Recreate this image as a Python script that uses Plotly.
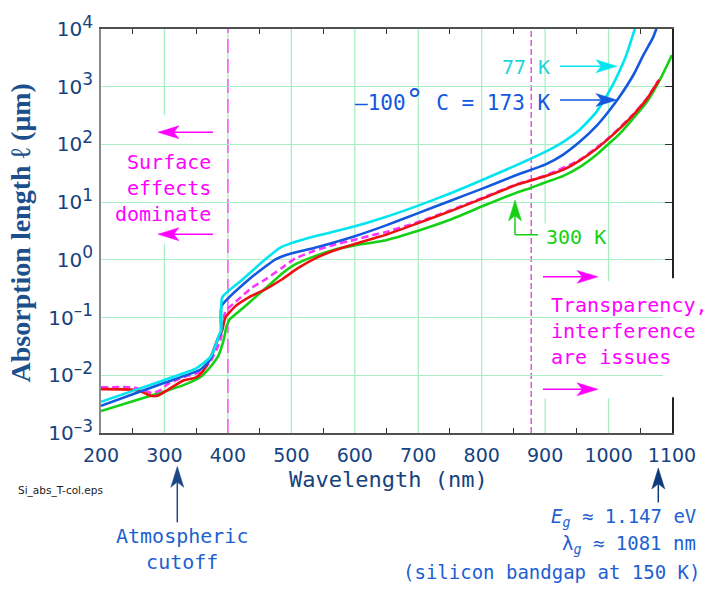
import plotly.graph_objects as go

# ---------------- data ----------------
wl_77 = [200, 250, 300, 350, 372, 380, 386, 389.5, 391, 420, 459, 482, 500, 537, 590, 645,
         700, 750, 800, 855, 900, 928, 955, 980, 1000, 1012, 1028, 1042]
L_77 = [0.00347, 0.00537, 0.00832, 0.0132, 0.0204, 0.0316, 0.0501, 0.0603, 0.224, 0.427, 1.02,
        1.62, 1.95, 2.57, 3.55, 5.37, 8.71, 14.1, 24.0, 43.7, 74.1, 110, 182, 355, 794, 1410,
        3550, 10500]

wl_173 = [200, 250, 300, 357, 372, 385, 389, 390, 433, 475, 493, 537, 600, 645, 700, 750, 800,
          855, 900, 928, 955, 981, 1000, 1017, 1040, 1055, 1070, 1076]
L_173 = [0.00295, 0.00468, 0.00741, 0.0126, 0.0186, 0.0457, 0.0550, 0.158, 0.457, 1.02, 1.23,
         1.62, 2.57, 3.80, 6.46, 10.5, 17.0, 29.5, 44.7, 66.1, 112, 209, 372, 661, 1660, 3550,
         7080, 10500]

wl_meas = [200, 250, 265, 281, 295, 304, 330, 357, 372, 388, 396, 417, 438, 459, 485, 506, 537,
           569, 600, 632, 645, 700, 750, 800, 855, 900, 955, 1000, 1038, 1060, 1078]
L_meas = [0.00617, 0.00617, 0.00562, 0.00490, 0.00562, 0.00692, 0.00933, 0.0115, 0.0170, 0.0398,
          0.126, 0.209, 0.331, 0.457, 0.724, 1.05, 1.45, 1.84, 2.24, 2.75, 2.95, 4.52, 7.16, 11.7,
          20.4, 28.8, 54.3, 129, 324, 617, 1260]

wl_red = [200, 250, 267, 280, 290, 304, 330, 351, 362, 372, 383, 391, 396, 412, 433, 459, 485,
          511, 537, 564, 600, 632, 645, 700, 750, 800, 855, 900, 928, 955, 981, 1000, 1017, 1038,
          1060, 1080]
L_red = [0.00575, 0.00562, 0.00501, 0.00437, 0.00447, 0.00550, 0.00813, 0.00933, 0.0123, 0.0195,
         0.0398, 0.0603, 0.100, 0.158, 0.224, 0.309, 0.457, 0.724, 1.05, 1.41, 1.88, 2.40, 2.63,
         4.33, 6.92, 11.4, 20.0, 28.2, 36.3, 53.1, 84.1, 126, 186, 316, 603, 1320]

wl_300 = [200, 250, 299, 330, 357, 372, 385, 393, 398, 403, 422, 443, 464, 485, 506, 537, 569,
          600, 645, 700, 750, 800, 855, 876, 900, 928, 955, 981, 1000, 1017, 1038, 1060, 1080, 1100]
L_300 = [0.00240, 0.00355, 0.00519, 0.00676, 0.00933, 0.0138, 0.0219, 0.0398, 0.0708, 0.0933,
         0.141, 0.224, 0.355, 0.575, 0.832, 1.16, 1.51, 1.78, 2.14, 3.20, 4.94, 8.38, 14.6, 17.4,
         21.9, 28.2, 40.7, 66.1, 102, 151, 275, 537, 1260, 3550]

marker_wavelengths = [400, 878]          # dashed reference lines (nm)

x_ticks = [200, 300, 400, 500, 600, 700, 800, 900, 1000, 1100]
x_tick_labels = ["200", "300", "400", "500", "600", "700", "800", "900", "1000", "1100"]
x_minor_ticks = [250, 350, 450, 550, 650, 750, 850, 950, 1050]
y_ticks = [1e-3, 1e-2, 1e-1, 1e0, 1e1, 1e2, 1e3, 1e4]
y_exponents = ["–3", "–2", "–1", "0", "1", "2", "3", "4"]

# ---------------- styling ----------------
SANS = "DejaVu Sans"
MONO = "DejaVu Sans Mono"
SERIF = "Liberation Serif"
NAVY = "#16427e"
GRID = "#a8f0c4"
MAG = "#ff00ff"
CYAN = "#00e6ee"
BLUE = "#1458e0"
RED = "#ee1111"
GREEN = "#16d016"
LBLUE = "#1e5fd2"

W, H = 711, 589
L, R, T, B = 101, 672, 26, 433


def px(x):
    return (x - L) / (R - L)


def py(y):
    return (B - y) / (B - T)


fig = go.Figure()
LW = 2.6
fig.add_trace(go.Scatter(x=wl_300, y=L_300, mode="lines",
                         line=dict(color=GREEN, width=LW, shape="spline", smoothing=0.5),
                         name="300 K", hoverinfo="skip"))
fig.add_trace(go.Scatter(x=wl_meas, y=L_meas, mode="lines",
                         line=dict(color="#ff33ff", width=LW, dash="7px,4px", shape="spline",
                                   smoothing=0.5),
                         name="data", hoverinfo="skip"))
fig.add_trace(go.Scatter(x=wl_red, y=L_red, mode="lines",
                         line=dict(color=RED, width=LW, shape="spline", smoothing=0.5),
                         name="300 K data", hoverinfo="skip"))
fig.add_trace(go.Scatter(x=wl_173, y=L_173, mode="lines",
                         line=dict(color=BLUE, width=LW, shape="spline", smoothing=0.5),
                         name="173 K", hoverinfo="skip"))
fig.add_trace(go.Scatter(x=wl_77, y=L_77, mode="lines",
                         line=dict(color=CYAN, width=LW, shape="spline", smoothing=0.5),
                         name="77 K", yaxis="y2", hoverinfo="skip"))

shapes = []
# vertical grid lines (under the white text boxes)
for v in x_ticks[1:-1]:
    shapes.append(dict(type="line", xref="x", yref="paper", x0=v, x1=v, y0=0, y1=1,
                       line=dict(color=GRID, width=1.3), layer="below"))


def wbox(x0, y0, x1, y1, layer="below"):
    return dict(type="rect", xref="paper", yref="paper", x0=px(x0), x1=px(x1),
                y0=py(y1), y1=py(y0), fillcolor="white", line=dict(width=0), layer=layer)


shapes += [wbox(106, 113, 221, 242), wbox(538, 222, 603, 280), wbox(540, 280, 663, 398)]

# dashed reference lines
shapes.append(dict(type="line", xref="x", yref="paper", x0=marker_wavelengths[0],
                   x1=marker_wavelengths[0], y0=0, y1=1,
                   line=dict(color="#ff5cff", width=1.6, dash="14px,6px"), layer="below"))
shapes.append(dict(type="line", xref="x", yref="paper", x0=marker_wavelengths[1],
                   x1=marker_wavelengths[1], y0=0, y1=1,
                   line=dict(color="#c800c8", width=1, dash="6px,3px"), layer="below"))

# cover over the right frame behind the text block
shapes.append(wbox(663, 277, 715, 397, layer="above"))


def seg(x0, y0, x1, y1, color, w=1.5):
    return dict(type="line", xref="paper", yref="paper", x0=px(x0), y0=py(y0), x1=px(x1),
                y1=py(y1), line=dict(color=color, width=w), layer="above")


def arrow(x0, y0, x1, y1, color, hl=21, hw=6.5, w=1.5):
    dx, dy = x1 - x0, y1 - y0
    n = (dx * dx + dy * dy) ** 0.5
    ux, uy = dx / n, dy / n
    bx, by = x1 - hl * ux, y1 - hl * uy
    nx, ny = -uy, ux
    c1 = (bx + hw * nx, by + hw * ny)
    c2 = (bx - hw * nx, by - hw * ny)
    notch = (x1 - 0.75 * hl * ux, y1 - 0.75 * hl * uy)
    pts = [(x1, y1), c1, notch, c2]
    path = "M " + " L ".join(f"{px(a):.5f},{py(b):.5f}" for a, b in pts) + " Z"
    return [seg(x0, y0, notch[0], notch[1], color, w),
            dict(type="path", xref="paper", yref="paper", path=path, fillcolor=color,
                 line=dict(color=color, width=0.5), layer="above")]


shapes += arrow(213, 130, 158, 130, MAG)
shapes += arrow(213, 232.7, 158, 232.7, MAG)
shapes += arrow(560, 63.5, 617, 63.5, CYAN)
shapes += arrow(560, 97.5, 617, 97.5, BLUE)
shapes += arrow(543, 275.7, 598, 275.7, MAG)
shapes += arrow(543, 389, 598, 389, MAG)
shapes += arrow(177.3, 523, 177.3, 466.7, "#1a4785")
shapes += arrow(658.3, 503, 658.3, 468.3, "#0d3a78")
shapes.append(seg(538, 233.3, 515, 233.3, GREEN))
shapes += arrow(515, 233.3, 515, 198.3, GREEN)


def ann(text, x, y, xanchor="center", size=20, color=NAVY, family=MONO, align="center",
        angle=0):
    return dict(text=text, x=px(x), y=py(y), xref="paper", yref="paper", xanchor=xanchor,
                yanchor="middle", showarrow=False, align=align, textangle=angle,
                font=dict(family=family, size=size, color=color))


annotations = [
    ann("<b>Absorption length ℓ (μm)</b>", 20, 232, size=28, color="#1d4f8c", family=SERIF,
        angle=-90),
    ann("Wavelength (nm)", 388, 480, size=22),
    ann("Si_abs_T-col.eps", 16, 491, xanchor="left", size=10.5, color="#222222", family=SANS),
    ann("Surface<br>effects<br>dominate", 213, 186, xanchor="right", color=MAG, align="right"),
    ann("77 K", 552, 64, xanchor="right", color="#1ed4d8"),
    ann("–100<span style='font-size:30px'>°</span> C = 173 K", 552, 97, xanchor="right",
        size=21, color=BLUE),
    ann("300 K", 544, 235.5, xanchor="left", color=GREEN),
    ann("Transparency,<br>interference<br>are issues", 549, 330, xanchor="left", color=MAG,
        align="left"),
    ann("Atmospheric<br>cutoff", 182, 550, color=LBLUE),
    ann("<i>E</i><sub><i>g</i></sub> ≈ 1.147 eV", 698, 518, xanchor="right", size=19,
        color=LBLUE),
    ann("λ<sub><i>g</i></sub> ≈ 1081 nm", 698, 545, xanchor="right", size=19, color=LBLUE),
    ann("(silicon bandgap at 150 K)", 702, 573, xanchor="right", size=19, color=LBLUE),
]

y_tick_text = [f"10<sup><span style='font-size:17px'>{e}</span></sup>" for e in y_exponents]

fig.update_layout(
    width=W, height=H, autosize=False,
    margin=dict(l=L, r=W - R, t=T, b=H - B, pad=0),
    paper_bgcolor="white", plot_bgcolor="white", showlegend=False,
    shapes=shapes, annotations=annotations,
    xaxis=dict(range=[200, 1100], tickmode="array", tickvals=x_ticks, ticktext=x_tick_labels,
               tickfont=dict(family=SANS, size=19, color=NAVY), ticks="", showgrid=False,
               zeroline=False, showline=True, linecolor="#505050", linewidth=1.5,
               mirror="ticks", ticklabelstandoff=4,
               minor=dict(tickmode="array", tickvals=x_minor_ticks, ticks="inside", ticklen=5,
                          tickcolor="#333333", tickwidth=1, showgrid=False)),
    yaxis=dict(type="log", range=[-3, 4], tickmode="array", tickvals=y_ticks,
               ticktext=y_tick_text, tickfont=dict(family=SANS, size=20, color=NAVY),
               ticks="", showgrid=True, gridcolor=GRID, gridwidth=1.3, zeroline=False,
               showline=True, linecolor="#8a8a8a", linewidth=2, ticklabelstandoff=2),
    yaxis2=dict(type="log", range=[-3, 4], overlaying="y", side="right", tickmode="array",
                tickvals=y_ticks, ticks="inside", ticklen=7, tickcolor="#333333",
                showticklabels=False, showgrid=False, zeroline=False, showline=True,
                linecolor="#222222", linewidth=1.5),
)

fig.write_html("out.html")
